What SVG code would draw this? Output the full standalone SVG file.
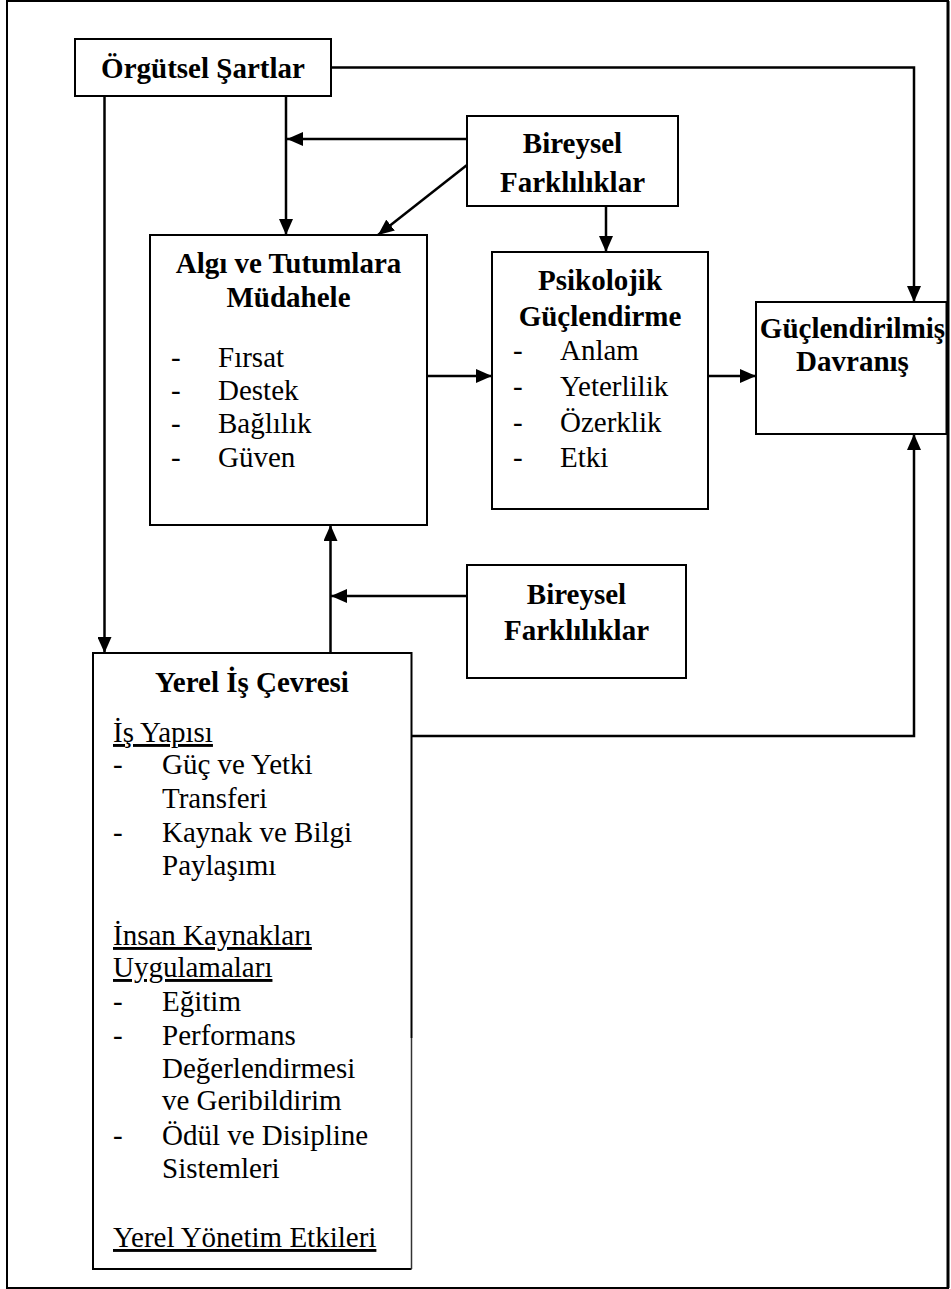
<svg xmlns="http://www.w3.org/2000/svg" width="951" height="1289" viewBox="0 0 951 1289">
  <style>
    .frame { fill: none; stroke: #000; stroke-width: 2; }
    .box { fill: #fff; stroke: #000; stroke-width: 2; }
    .wire { fill: none; stroke: #000; stroke-width: 2.5; }
    .t { font-family: "Liberation Serif", "Times New Roman", serif; font-size: 29px; fill: #000; }
    .b { font-weight: bold; }
    .c { text-anchor: middle; }
    .u { text-decoration: underline; }
  </style>
  <defs>
    <marker id="arrow" markerUnits="userSpaceOnUse" markerWidth="16" markerHeight="14" refX="16" refY="7" orient="auto">
      <path d="M0,0 L16,7 L0,14 z" fill="#000"/>
    </marker>
  </defs>

  <!-- page frame -->
  <rect class="frame" x="7" y="1" width="941" height="1287"/>
  <line x1="948" y1="1" x2="948" y2="1288" stroke="#000" stroke-width="3"/>

  <g id="connectors">
    <line class="wire" x1="104.5" y1="96" x2="104.5" y2="653" marker-end="url(#arrow)"/>
    <line class="wire" x1="286" y1="96" x2="286" y2="235" marker-end="url(#arrow)"/>
    <line class="wire" x1="467" y1="139" x2="287" y2="139" marker-end="url(#arrow)"/>
    <line class="wire" x1="467" y1="165" x2="378" y2="235" marker-end="url(#arrow)"/>
    <polyline class="wire" points="331,67.5 914,67.5 914,302" marker-end="url(#arrow)"/>
    <line class="wire" x1="606" y1="206" x2="606" y2="252" marker-end="url(#arrow)"/>
    <line class="wire" x1="427" y1="376" x2="492" y2="376" marker-end="url(#arrow)"/>
    <line class="wire" x1="708" y1="376" x2="756" y2="376" marker-end="url(#arrow)"/>
    <line class="wire" x1="330.5" y1="653" x2="330.5" y2="525" marker-end="url(#arrow)"/>
    <line class="wire" x1="467" y1="596" x2="331" y2="596" marker-end="url(#arrow)"/>
    <polyline class="wire" points="411,736 914,736 914,434" marker-end="url(#arrow)"/>
  </g>

  <g id="orgutsel-sartlar">
    <rect class="box" x="75" y="39" width="256" height="57"/>
    <text class="t b c" x="203" y="78">Örgütsel Şartlar</text>
  </g>

  <g id="bireysel-farkliliklar-1">
    <rect class="box" x="467" y="116" width="211" height="90"/>
    <text class="t b c" x="572.5" y="153">Bireysel</text>
    <text class="t b c" x="572.5" y="192">Farklılıklar</text>
  </g>

  <g id="algi-ve-tutumlar">
    <rect class="box" x="150" y="235" width="277" height="290"/>
    <text class="t b c" x="288.5" y="273">Algı ve Tutumlara</text>
    <text class="t b c" x="288.5" y="307">Müdahele</text>
    <text class="t" x="171" y="367">-</text><text class="t" x="218" y="367">Fırsat</text>
    <text class="t" x="171" y="400">-</text><text class="t" x="218" y="400">Destek</text>
    <text class="t" x="171" y="433">-</text><text class="t" x="218" y="433">Bağlılık</text>
    <text class="t" x="171" y="467">-</text><text class="t" x="218" y="467">Güven</text>
  </g>

  <g id="psikolojik-guclendirme">
    <rect class="box" x="492" y="252" width="216" height="257"/>
    <text class="t b c" x="600" y="290">Psikolojik</text>
    <text class="t b c" x="600" y="326">Güçlendirme</text>
    <text class="t" x="513" y="360">-</text><text class="t" x="560" y="360">Anlam</text>
    <text class="t" x="513" y="396">-</text><text class="t" x="560" y="396">Yeterlilik</text>
    <text class="t" x="513" y="432">-</text><text class="t" x="560" y="432">Özerklik</text>
    <text class="t" x="513" y="467">-</text><text class="t" x="560" y="467">Etki</text>
  </g>

  <g id="guclendirilmis-davranis">
    <rect class="box" x="756" y="302" width="190.5" height="132"/>
    <text class="t b c" x="852.5" y="338">Güçlendirilmiş</text>
    <text class="t b c" x="852.5" y="371">Davranış</text>
  </g>

  <g id="bireysel-farkliliklar-2">
    <rect class="box" x="467" y="565" width="219" height="113"/>
    <text class="t b c" x="576.5" y="604">Bireysel</text>
    <text class="t b c" x="576.5" y="640">Farklılıklar</text>
  </g>

  <g id="yerel-is-cevresi">
    <rect x="93" y="653" width="318" height="616" fill="#fff"/>
    <!-- outline: right side is heavier down to y=1038, lighter below -->
    <path d="M411.5,1038 L411.5,653 L93,653 L93,1269 L411.5,1269" fill="none" stroke="#000" stroke-width="2"/>
    <line x1="411.5" y1="1038" x2="411.5" y2="1269" stroke="#333" stroke-width="1.5"/>
    <text class="t b c" x="252" y="692">Yerel İş Çevresi</text>
    <text class="t u" x="113" y="742">İş Yapısı</text>
    <text class="t" x="113" y="774">-</text><text class="t" x="162" y="774">Güç ve Yetki</text>
    <text class="t" x="162" y="808">Transferi</text>
    <text class="t" x="113" y="842">-</text><text class="t" x="162" y="842">Kaynak ve Bilgi</text>
    <text class="t" x="162" y="875">Paylaşımı</text>
    <text class="t u" x="113" y="945">İnsan Kaynakları</text>
    <text class="t u" x="113" y="977">Uygulamaları</text>
    <text class="t" x="113" y="1011">-</text><text class="t" x="162" y="1011">Eğitim</text>
    <text class="t" x="113" y="1045">-</text><text class="t" x="162" y="1045">Performans</text>
    <text class="t" x="162" y="1078">Değerlendirmesi</text>
    <text class="t" x="162" y="1110">ve Geribildirim</text>
    <text class="t" x="113" y="1145">-</text><text class="t" x="162" y="1145">Ödül ve Disipline</text>
    <text class="t" x="162" y="1178">Sistemleri</text>
    <text class="t u" x="113" y="1247">Yerel Yönetim Etkileri</text>
  </g>
</svg>
